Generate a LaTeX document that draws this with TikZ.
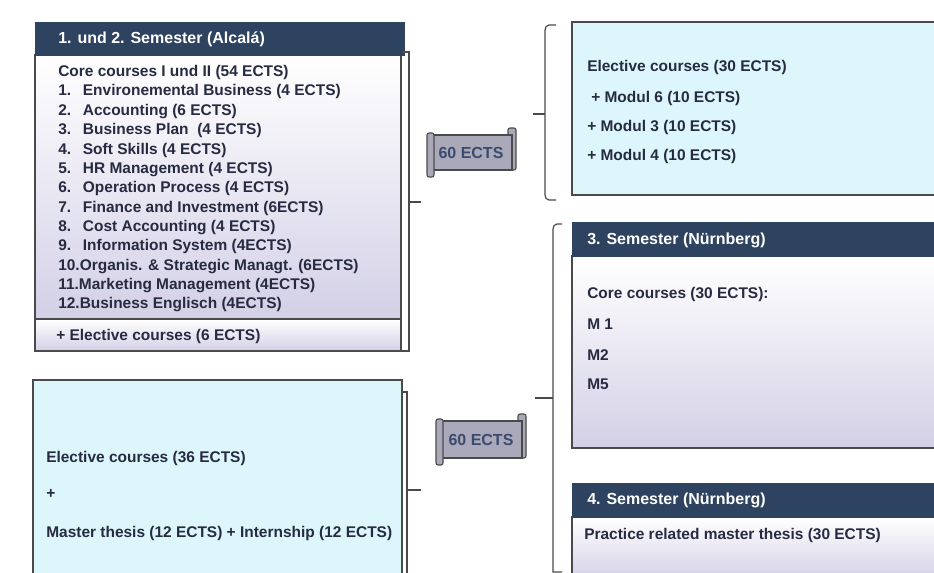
\documentclass[tikz,border=0pt]{standalone}
\usepackage{fontspec}
\setmainfont{Liberation Sans}
\usetikzlibrary{fit}
\definecolor{navy}{HTML}{2E4360}
\definecolor{txtc}{HTML}{262B42}
\definecolor{lav}{HTML}{D3D0E6}
\definecolor{cyanbg}{HTML}{DCF6FB}
\definecolor{edge}{HTML}{4A4A4A}
\definecolor{badgec}{HTML}{A9A9B9}
\definecolor{badget}{HTML}{3B4A6E}
\begin{document}
\begin{tikzpicture}[x=0.75pt,y=-0.75pt,
  hdr/.style={fill=navy,draw=navy,inner sep=0,line width=0.6pt},
  gbody/.style={top color=white,bottom color=lav,draw=edge,inner sep=0,line width=1pt},
  cbody/.style={fill=cyanbg,draw=edge,inner sep=0,line width=1pt},
  txt/.style={anchor=west,inner sep=0,text=txtc,font=\bfseries\fontsize{11.6}{13}\selectfont},
  htxt/.style={anchor=west,inner sep=0,text=white,font=\bfseries\fontsize{12}{13}\selectfont},
  brk/.style={draw=edge,line width=0.9pt},
  roll/.style={fill=badgec,draw=edge,line width=0.8pt,rounded corners=1.5pt},
  badge/.style={fill=badgec,draw=edge,line width=0.8pt,inner sep=0},
  btxt/.style={text=badget,font=\bfseries\fontsize{12}{13}\selectfont,inner sep=0}]
\useasboundingbox (0,0) rectangle (934,573);
\fill[white] (0,0) rectangle (934,573);

% ---------- top-left box ----------
\node[gbody,fit={(35,55) (401,319)}] (tlbody) {};
\node[gbody,fit={(35,319) (401,351)}] (tlel) {};
\node[hdr,fit={(35,22) (404,55)}] (tlhdr) {};
\node[htxt] (tlh) at (58,39) {1. und 2. Semester (Alcalá)};
\node[txt] (c0) at (58,73) {Core courses I und II (54 ECTS)};
\foreach \i/\n/\t in {1/1./Environemental Business (4 ECTS),
  2/2./Accounting (6 ECTS),
  3/3./Business Plan\ \ (4 ECTS),
  4/4./Soft Skills (4 ECTS),
  5/5./HR Management (4 ECTS),
  6/6./Operation Process (4 ECTS),
  7/7./Finance and Investment (6ECTS),
  8/8./Cost Accounting (4 ECTS),
  9/9./Information System (4ECTS)}
  \node[txt] (c\i) at (58,{92+(\i-1)*19.35}) {\makebox[18.5pt][l]{\n}\t};
\node[txt] (c10) at (58,{92+9*19.35}) {10.Organis. \& Strategic Managt. (6ECTS)};
\node[txt] (c11) at (58,{92+10*19.35}) {11.Marketing Management (4ECTS)};
\node[txt] (c12) at (58,{92+11*19.35}) {12.Business Englisch (4ECTS)};
\node[txt] (tle) at (56,337) {+ Elective courses (6 ECTS)};
% bracket right of top-left box
\coordinate (tb1) at (402,52);
\coordinate (tb2) at (402,351);
\draw[brk] (tb1) -- (409,52) -- (409,351) -- (tb2);
\coordinate (tbm) at (409,202);
\draw[brk] (tbm) -- (421,202);

% ---------- badge 1 ----------
\draw[roll] (508,128) rectangle (516,170);
\node[badge,fit={(431,135) (512,170)}] (b1) {};
\draw[roll] (427,133) rectangle (434,177);
\node[btxt] (b1t) at (471,153) {60 ECTS};

% ---------- top-right box ----------
\node[cbody,fit={(572,22) (940,195)}] (trbox) {};
\node[txt] (e0) at (587,68) {Elective courses (30 ECTS)};
\node[txt] (e1) at (591,99) {+ Modul 6 (10 ECTS)};
\node[txt] (e2) at (587,128) {+ Modul 3 (10 ECTS)};
\node[txt] (e3) at (587,157) {+ Modul 4 (10 ECTS)};
% bracket left of top-right box
\draw[brk] (556,25) -- (549,25) to[out=180,in=90] (545,30) -- (545,195) to[out=-90,in=180] (549,200) -- (556,200);
\coordinate (trm) at (545,114);
\draw[brk] (trm) -- (533,114);

% ---------- 3. Semester ----------
\node[gbody,fit={(572,256) (940,448)}] (s3body) {};
\node[hdr,fit={(572,222) (940,256)}] (s3hdr) {};
\node[htxt] (s3h) at (587,240) {3. Semester (Nürnberg)};
\node[txt] (s3a) at (587,295) {Core courses (30 ECTS):};
\node[txt] (s3b) at (587,324) {M 1};
\node[txt] (s3c) at (587,355) {M2};
\node[txt] (s3d) at (587,384) {M5};

% ---------- 4. Semester ----------
\node[gbody,fit={(572,517) (940,580)}] (s4body) {};
\node[hdr,fit={(572,483) (940,517)}] (s4hdr) {};
\node[htxt] (s4h) at (587,500) {4. Semester (Nürnberg)};
\node[txt] (s4a) at (584,535) {Practice related master thesis (30 ECTS)};
% bracket left of semesters 3 and 4
\draw[brk] (562,224) -- (557,224) to[out=180,in=90] (553,229) -- (553,572) -- (562,572);
\coordinate (rbm) at (553,398);
\draw[brk] (rbm) -- (535,398);

% ---------- bottom-left box ----------
\node[cbody,fit={(33,380) (402,580)}] (blbox) {};
\node[txt] (f0) at (46,458) {Elective courses (36 ECTS)};
\node[txt] (f1) at (46,494) {+};
\node[txt] (f2) at (46,533) {Master thesis (12 ECTS) + Internship (12 ECTS)};
\draw[brk] (402,392) -- (407,392) -- (407,580);
\coordinate (blm) at (407,490);
\draw[brk] (blm) -- (421,490);

% ---------- badge 2 ----------
\draw[roll] (518,414) rectangle (526,458);
\node[badge,fit={(440,421) (522,458)}] (b2) {};
\draw[roll] (436,419) rectangle (443,465);
\node[btxt] (b2t) at (481,440) {60 ECTS};
\end{tikzpicture}
\end{document}
